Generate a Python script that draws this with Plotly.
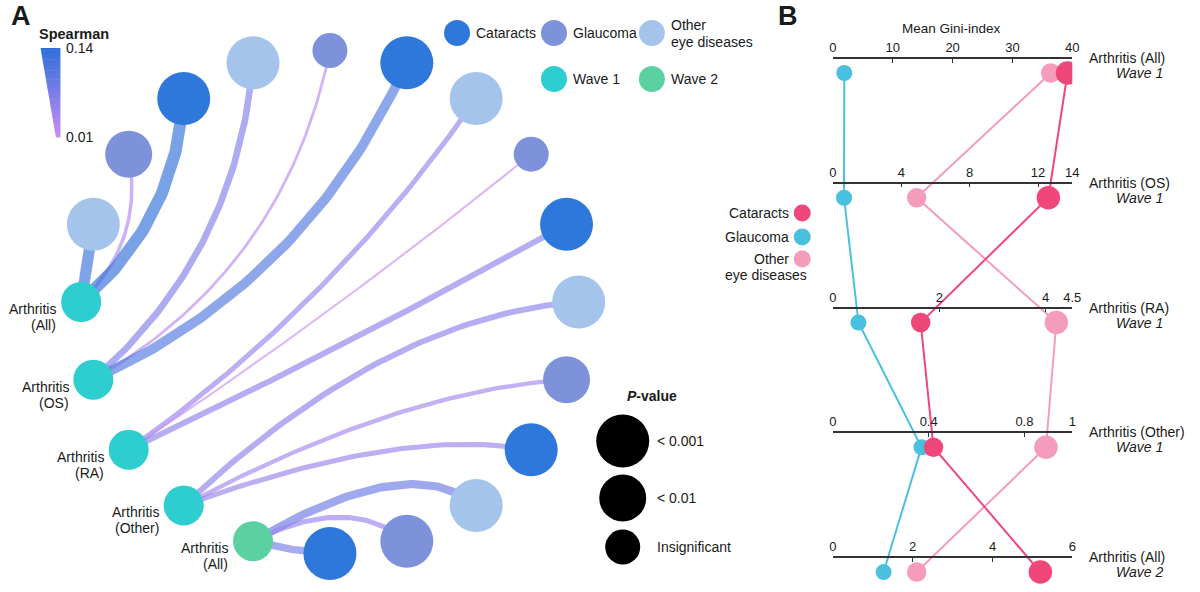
import numpy as np
import plotly.graph_objects as go

FONT = "Liberation Sans, Arial, sans-serif"
INK = "#1a1a1a"

# ================= DATA =================
# ---- Panel A: Spearman network (arthritis -> eye diseases) ----
source_names = ["Arthritis (All)", "Arthritis (OS)", "Arthritis (RA)", "Arthritis (Other)", "Arthritis (All)"]
source_lines = [("Arthritis", "(All)"), ("Arthritis", "(OS)"), ("Arthritis", "(RA)"),
                ("Arthritis", "(Other)"), ("Arthritis", "(All)")]
source_waves = ["Wave 1", "Wave 1", "Wave 1", "Wave 1", "Wave 2"]
eye_diseases = ["Other eye diseases", "Glaucoma", "Cataracts"]
spearman_other = [0.13, 0.07, 0.05, 0.06, 0.09]
spearman_glaucoma = [0.03, 0.02, 0.01, 0.04, 0.05]
spearman_cataracts = [0.14, 0.11, 0.06, 0.05, 0.08]
pclass_other = ["<0.001", "<0.001", "<0.001", "<0.001", "<0.001"]
pclass_glaucoma = ["<0.01", "ns", "ns", "<0.01", "<0.001"]
pclass_cataracts = ["<0.001", "<0.001", "<0.001", "<0.001", "<0.001"]
spearman_range = [0.01, 0.14]
pvalue_levels = ["<0.001", "<0.01", "ns"]
pvalue_labels = ["< 0.001", "< 0.01", "Insignificant"]

# ---- Panel B: mean Gini-index ----
gini_rows = ["Arthritis (All)", "Arthritis (OS)", "Arthritis (RA)", "Arthritis (Other)", "Arthritis (All)"]
gini_waves = ["Wave 1", "Wave 1", "Wave 1", "Wave 1", "Wave 2"]
gini_cataracts = [39.2, 12.6, 1.65, 0.42, 5.2]
gini_glaucoma = [1.9, 0.65, 0.48, 0.37, 1.27]
gini_other = [36.4, 4.9, 4.2, 0.89, 2.1]
gini_axis_max = [40, 14, 4.5, 1, 6]
gini_axis_ticks = [[0, 10, 20, 30, 40], [0, 4, 8, 12, 14], [0, 2, 4, 4.5], [0, 0.4, 0.8, 1], [0, 2, 4, 6]]

# ================= STYLE / LAYOUT =================
W, H = 1200, 592
ring_cx, ring_cy, ring_r, ring_step = 329.5, 302.0, 251.5, 18.0
node_colors = {"Cataracts": "#2E78DC", "Glaucoma": "#7E92DC", "Other eye diseases": "#A5C4EC",
               "Wave 1": "#2ECDCF", "Wave 2": "#5BD0A0"}
p_size = {"<0.001": 53, "<0.01": 47, "ns": 35}
source_size = 40
edge_lo = np.array([200, 140, 245])   # colour at spearman 0.01
edge_hi = np.array([47, 111, 216])    # colour at spearman 0.14
edge_alpha = 0.65
# curve bend (px, + = right-hand side of travel) and where along the chord the bend sits
edge_bend = [[0, 21, 24], [36, 46, 42], [22, 6, 4], [-38, -21, -22], [-33, -24, 2]]
edge_skew = [[0.5, 0.5, 0.5], [0.5, 0.5, 0.5], [0.5, 0.5, 0.5], [0.6, 0.6, 0.65], [0.75, 0.62, 0.5]]

b_colors = {"Cataracts": "#F0477B", "Glaucoma": "#4AC0E0", "Other eye diseases": "#F59BBB"}
b_rank_size = [16, 19.5, 23.5]
b_dom = [838 / W, 1080 / W]
b_yrange = [4.16, -0.585]

fig = go.Figure()


def ring_xy(k):
    a = np.radians(180.0 - ring_step * k)
    return ring_cx + ring_r * np.cos(a), ring_cy - ring_r * np.sin(a)


def spear_t(s):
    return (s - spearman_range[0]) / (spearman_range[1] - spearman_range[0])


def spear_rgb(s, alpha=None):
    c = edge_lo + spear_t(s) * (edge_hi - edge_lo)
    if alpha is None:
        return "rgb(%d,%d,%d)" % tuple(np.round(c))
    return "rgba(%d,%d,%d,%.2f)" % (*np.round(c), alpha)


def bezier(p0, p2, bend, skew=0.5, n=70):
    p0 = np.array(p0, float)
    p2 = np.array(p2, float)
    d = p2 - p0
    L = np.hypot(*d)
    nrm = np.array([-d[1], d[0]]) / L
    c = p0 + skew * d + 2 * bend * nrm
    t = np.linspace(0, 1, n)[:, None]
    pts = (1 - t) ** 2 * p0 + 2 * t * (1 - t) * c + t ** 2 * p2
    return pts[:, 0], pts[:, 1]


# ---------- Panel A ----------
src_k = [0, 19, 18, 17, 16]
src_pos = [ring_xy(k) for k in src_k]
spear = [spearman_other, spearman_glaucoma, spearman_cataracts]
pcls = [pclass_other, pclass_glaucoma, pclass_cataracts]

tx, ty, tc, ts = [], [], [], []
for i in range(5):
    for j, dis in enumerate(eye_diseases):
        k = 1 + 3 * i + j
        x, y = ring_xy(k)
        s = spear[j][i]
        ex, ey = bezier(src_pos[i], (x, y), edge_bend[i][j], edge_skew[i][j])
        fig.add_trace(go.Scatter(x=ex, y=ey, mode="lines", hoverinfo="skip",
                                 line=dict(color=spear_rgb(s, edge_alpha), width=2 + 10 * spear_t(s))))
        tx.append(x); ty.append(y); tc.append(node_colors[dis]); ts.append(p_size[pcls[j][i]])

fig.add_trace(go.Scatter(x=tx, y=ty, mode="markers", hoverinfo="skip",
                         marker=dict(color=tc, size=ts, opacity=1, line=dict(width=0))))
fig.add_trace(go.Scatter(x=[p[0] for p in src_pos], y=[p[1] for p in src_pos], mode="markers",
                         hoverinfo="skip",
                         marker=dict(color=[node_colors[w] for w in source_waves], size=source_size,
                                     opacity=1, line=dict(width=0))))

ann = []


def text(x, y, s, size=14, xanchor="left", xref="x", yref="y", **kw):
    ann.append(dict(x=x, y=y, xref=xref, yref=yref, text=s, showarrow=False, xanchor=xanchor,
                    yanchor="middle", font=dict(family=FONT, size=size, color=INK), **kw))


for i, (l1, l2) in enumerate(source_lines):
    x, y = src_pos[i]
    text(x - 23, y + 7, l1, xanchor="right")
    text(x - 23, y + 23, l2, xanchor="right")

# category legend (top)
leg_items = [("Cataracts", 458, 33), ("Glaucoma", 556, 33), ("Other eye diseases", 655, 33),
             ("Wave 1", 556, 79), ("Wave 2", 655, 79)]
fig.add_trace(go.Scatter(x=[a[1] for a in leg_items], y=[a[2] for a in leg_items], mode="markers",
                         hoverinfo="skip",
                         marker=dict(size=26, opacity=1, color=[node_colors[a[0]] for a in leg_items],
                                     line=dict(width=0))))
for name, x, y in leg_items:
    if name == "Other eye diseases":
        text(x + 17, y - 8, "Other")
        text(x + 17, y + 9, "eye diseases")
    else:
        text(x + 17, y, name)

# P-value legend
pv_y = [441, 498, 547]
fig.add_trace(go.Scatter(x=[625.5] * 3, y=pv_y, mode="markers", hoverinfo="skip",
                         marker=dict(size=[p_size[l] for l in pvalue_levels], color="black", opacity=1,
                                     line=dict(width=0))))
for lab, y in zip(pvalue_labels, pv_y):
    text(658, y, lab)
text(655, 396, "<b><i>P</i>-value</b>", xanchor="center")

# Spearman wedge legend
shapes = []
n = 40
top, bot = 48, 137
for i in range(n):
    t0, t1 = i / n, (i + 1) / n
    y0, y1 = top + t0 * (bot - top), top + t1 * (bot - top)
    xl0, xl1 = 37 + t0 * 15.5, 37 + t1 * 15.5
    s = spearman_range[1] - (t0 + t1) / 2 * (spearman_range[1] - spearman_range[0])
    shapes.append(dict(type="path", xref="x", yref="y",
                       path=f"M{xl0},{y0} L57,{y0} L57,{y1 + 0.6} L{xl1},{y1 + 0.6} Z",
                       fillcolor=spear_rgb(s), line=dict(width=0)))
text(33, 34, "<b>Spearman</b>", size=14.5)
text(61, 48, "%.2f" % spearman_range[1])
text(61, 137, "%.2f" % spearman_range[0])

# panel letters
text(5, 16, "<b>A</b>", size=27)
text(780, 16, "<b>B</b>", size=27)

# ---------- Panel B ----------
rows = list(range(len(gini_rows)))
b_vals = {"Cataracts": gini_cataracts, "Glaucoma": gini_glaucoma, "Other eye diseases": gini_other}


def y2_to_px(v):
    return (v - b_yrange[1]) / (b_yrange[0] - b_yrange[1]) * H


for dis in ["Glaucoma", "Other eye diseases", "Cataracts"]:
    xs = [v / m for v, m in zip(b_vals[dis], gini_axis_max)]
    fig.add_trace(go.Scatter(x=xs, y=rows, xaxis="x2", yaxis="y2", mode="lines", hoverinfo="skip",
                             line=dict(color=b_colors[dis], width=2)))

order = ["Glaucoma", "Other eye diseases", "Cataracts"]
for r in rows:
    vals = [b_vals[d][r] for d in order]
    rank = np.argsort(np.argsort(vals))
    fig.add_trace(go.Scatter(x=vals, y=[r] * 3, xaxis=f"x{r + 3}", yaxis="y2", mode="markers",
                             hoverinfo="skip",
                             marker=dict(color=[b_colors[d] for d in order], opacity=1,
                                         size=[b_rank_size[k] for k in rank], line=dict(width=0))))

layout_axes = {}
for r in rows:
    line_px = y2_to_px(r) - 15
    layout_axes[f"xaxis{r + 3}"] = dict(
        overlaying="x2", anchor="free", position=1 - line_px / H, side="top",
        range=[0, gini_axis_max[r]], tickvals=gini_axis_ticks[r],
        ticktext=[("%g" % v) for v in gini_axis_ticks[r]],
        ticks="inside", ticklen=4, tickwidth=1.2, tickcolor="#333",
        showline=True, linecolor="#333", linewidth=1.5, showgrid=False, zeroline=False,
        tickfont=dict(family=FONT, size=13, color=INK), fixedrange=True)
    text(1095, line_px, gini_rows[r])
    text(1174, y2_to_px(r), f"<i>{gini_waves[r]}</i>", xanchor="right")

text(958, 28, "Mean Gini-index", size=13.5, xanchor="center")

# panel B legend
bl = [("Cataracts", 213), ("Glaucoma", 237), ("Other eye diseases", 259)]
fig.add_trace(go.Scatter(x=[807] * 3, y=[b[1] for b in bl], mode="markers", hoverinfo="skip",
                         marker=dict(size=17, opacity=1, color=[b_colors[b[0]] for b in bl], line=dict(width=0))))
text(796, 213, "Cataracts", xanchor="right")
text(796, 237, "Glaucoma", xanchor="right")
text(796, 259, "Other", xanchor="right")
text(814, 275, "eye diseases", xanchor="right")

fig.update_layout(
    width=W, height=H, margin=dict(l=0, r=0, t=0, b=0),
    paper_bgcolor="white", plot_bgcolor="rgba(0,0,0,0)", showlegend=False,
    xaxis=dict(range=[0, W], visible=False, fixedrange=True),
    yaxis=dict(range=[H, 0], visible=False, fixedrange=True),
    xaxis2=dict(domain=b_dom, range=[0, 1], anchor="y2", visible=False, fixedrange=True),
    yaxis2=dict(domain=[0, 1], range=b_yrange, anchor="x2", visible=False, fixedrange=True),
    annotations=ann, shapes=shapes,
    **layout_axes,
)

fig.write_html("out.html", config={"displayModeBar": False},
               post_script="document.body.style.margin='0';document.body.style.overflow='hidden';")
